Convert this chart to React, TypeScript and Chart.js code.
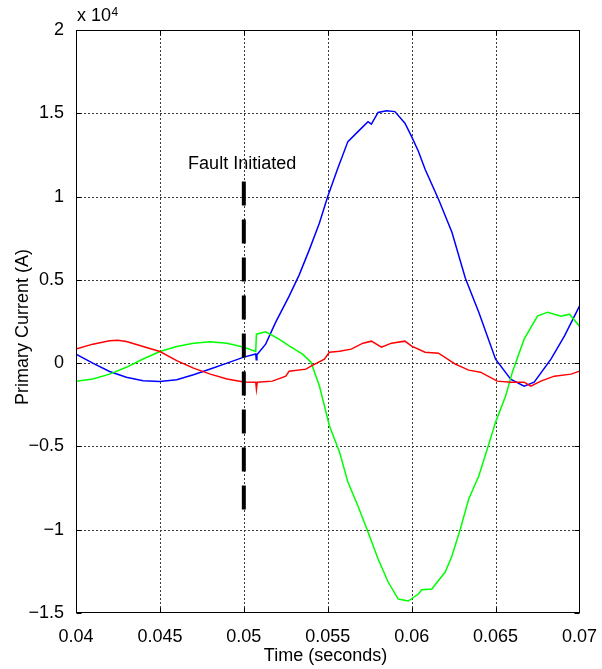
import React, { useEffect, useRef } from 'react';
import { Chart, registerables } from 'chart.js';

Chart.register(...registerables);

// Time axis values (seconds) and currents (x 10^4 A)
const blueTime = [0.04, 0.041, 0.042, 0.043, 0.044, 0.045, 0.046, 0.047, 0.048, 0.049, 0.05, 0.05071, 0.05074, 0.05078, 0.0513, 0.0519, 0.0527, 0.0533, 0.0539, 0.0545, 0.055, 0.0556, 0.0562, 0.0568, 0.0574, 0.0576, 0.058, 0.0585, 0.059, 0.0596, 0.06, 0.0604, 0.0608, 0.0616, 0.0624, 0.0632, 0.064, 0.065, 0.0659, 0.0667, 0.0673, 0.0683, 0.0691, 0.07];
const blueCurrent = [0.054, 0.0, -0.05, -0.085, -0.105, -0.11, -0.1, -0.07, -0.035, 0.0, 0.036, 0.055, 0.02, 0.05, 0.114, 0.246, 0.402, 0.53, 0.68, 0.84, 1.0, 1.17, 1.33, 1.39, 1.45, 1.435, 1.505, 1.515, 1.51, 1.44, 1.36, 1.272, 1.164, 0.984, 0.786, 0.51, 0.306, 0.024, -0.096, -0.138, -0.114, 0.024, 0.162, 0.342];

const greenTime = [0.04, 0.041, 0.042, 0.043, 0.044, 0.045, 0.046, 0.047, 0.048, 0.049, 0.05, 0.05071, 0.05075, 0.0513, 0.0521, 0.0527, 0.0535, 0.054, 0.0545, 0.0551, 0.0557, 0.0562, 0.0568, 0.0574, 0.058, 0.0586, 0.0592, 0.0598, 0.0604, 0.0606, 0.0612, 0.062, 0.0624, 0.0629, 0.0634, 0.064, 0.0646, 0.065, 0.0656, 0.066, 0.0667, 0.0675, 0.0681, 0.0689, 0.0694, 0.07];
const greenCurrent = [-0.108, -0.095, -0.066, -0.025, 0.025, 0.07, 0.1, 0.12, 0.128, 0.12, 0.095, 0.07, 0.174, 0.188, 0.144, 0.104, 0.054, 0.006, -0.136, -0.376, -0.534, -0.714, -0.858, -1.014, -1.176, -1.314, -1.416, -1.428, -1.386, -1.36, -1.356, -1.254, -1.158, -0.996, -0.816, -0.678, -0.486, -0.354, -0.198, -0.054, 0.144, 0.282, 0.306, 0.282, 0.294, 0.222];

const redTime = [0.04, 0.041, 0.042, 0.0425, 0.043, 0.044, 0.045, 0.046, 0.047, 0.048, 0.049, 0.05, 0.05071, 0.05075, 0.0508, 0.0517, 0.0525, 0.0527, 0.0537, 0.054, 0.0548, 0.0551, 0.0557, 0.0564, 0.0571, 0.0576, 0.0582, 0.0588, 0.0596, 0.06, 0.0608, 0.0616, 0.0626, 0.0634, 0.0641, 0.0651, 0.0659, 0.0667, 0.0671, 0.0677, 0.0685, 0.0695, 0.07];
const redCurrent = [0.084, 0.114, 0.135, 0.138, 0.13, 0.1, 0.07, 0.015, -0.03, -0.066, -0.095, -0.113, -0.115, -0.156, -0.114, -0.108, -0.078, -0.048, -0.036, -0.018, 0.024, 0.066, 0.072, 0.084, 0.12, 0.132, 0.096, 0.12, 0.132, 0.102, 0.066, 0.06, -0.006, -0.042, -0.054, -0.108, -0.114, -0.114, -0.138, -0.108, -0.078, -0.066, -0.048];

const faultTime = [0.05, 0.05];
const faultCurrent = [1.09, -0.895];
const faultLabel = 'Fault Initiated';
const faultLabelTime = 0.0499;
const faultLabelCurrent = 1.195;

const xTickValues = [0.04, 0.045, 0.05, 0.055, 0.06, 0.065, 0.07];
const xTickLabels = ['0.04', '0.045', '0.05', '0.055', '0.06', '0.065', '0.07'];
const yTickValues = [-1.5, -1, -0.5, 0, 0.5, 1, 1.5, 2];
const yTickLabels = ['\u22121.5', '\u22121', '\u22120.5', '0', '0.5', '1', '1.5', '2'];

const xTitle = 'Time (seconds)';
const yTitle = 'Primary Current (A)';
const exponentBase = 'x 10';
const exponentPower = '4';

const FONT = "'Liberation Sans', Arial, Helvetica, sans-serif";

const zip = (t: number[], v: number[]) => t.map((x, i) => ({ x, y: v[i] }));

const matlabPlugin = {
  id: 'matlabFrame',
  beforeDatasetsDraw(chart: any) {
    const { ctx, chartArea: a, scales } = chart;
    const xs = scales.x;
    const ys = scales.y;
    ctx.save();
    ctx.strokeStyle = '#3a3a3a';
    ctx.lineWidth = 1;
    ctx.setLineDash([2, 2]);
    for (const v of xTickValues.slice(1, -1)) {
      const px = Math.round(xs.getPixelForValue(v)) + 0.5;
      ctx.beginPath();
      ctx.moveTo(px, a.top);
      ctx.lineTo(px, a.bottom);
      ctx.stroke();
    }
    for (const v of yTickValues.slice(1, -1)) {
      const py = Math.round(ys.getPixelForValue(v)) + 0.5;
      ctx.beginPath();
      ctx.moveTo(a.left, py);
      ctx.lineTo(a.right, py);
      ctx.stroke();
    }
    ctx.restore();
  },
  afterDatasetsDraw(chart: any) {
    const { ctx, chartArea: a, scales } = chart;
    const xs = scales.x;
    const ys = scales.y;
    ctx.save();
    ctx.strokeStyle = '#000';
    ctx.lineWidth = 1;
    ctx.setLineDash([]);
    const L = Math.round(a.left) + 0.5;
    const R = Math.round(a.right) + 0.5;
    const T = Math.round(a.top) + 0.5;
    const B = Math.round(a.bottom) - 0.5;
    ctx.strokeRect(L, T, R - L, B - T);
    const tl = 5;
    ctx.beginPath();
    for (const v of xTickValues) {
      const px = Math.round(xs.getPixelForValue(v)) + 0.5;
      ctx.moveTo(px, B);
      ctx.lineTo(px, B - tl);
      ctx.moveTo(px, T);
      ctx.lineTo(px, T + tl);
    }
    for (const v of yTickValues) {
      const py = Math.round(ys.getPixelForValue(v)) + 0.5;
      ctx.moveTo(L, py);
      ctx.lineTo(L + tl, py);
      ctx.moveTo(R, py);
      ctx.lineTo(R - tl, py);
    }
    ctx.stroke();

    ctx.fillStyle = '#000';
    ctx.font = `18px ${FONT}`;
    ctx.textAlign = 'center';
    ctx.textBaseline = 'middle';
    ctx.fillText(faultLabel, xs.getPixelForValue(faultLabelTime), ys.getPixelForValue(faultLabelCurrent));

    // axis titles
    ctx.fillText(xTitle, 325.5, 656);
    ctx.save();
    ctx.translate(23, 327);
    ctx.rotate(-Math.PI / 2);
    ctx.fillText(yTitle, 0, 0);
    ctx.restore();

    // exponent label
    ctx.textAlign = 'left';
    ctx.textBaseline = 'alphabetic';
    ctx.font = `18px ${FONT}`;
    const bx = a.left + 1;
    ctx.fillText(exponentBase, bx, 21);
    const w = ctx.measureText(exponentBase).width;
    ctx.font = `12px ${FONT}`;
    ctx.fillText(exponentPower, bx + w + 0.5, 16);
    ctx.restore();
  },
};

export default function App() {
  const ref = useRef<HTMLCanvasElement | null>(null);

  useEffect(() => {
    if (!ref.current) return;
    const lineDs = (label: string, t: number[], v: number[], color: string, order: number) => ({
      label,
      data: zip(t, v),
      borderColor: color,
      backgroundColor: color,
      borderWidth: 1.5,
      pointRadius: 0,
      tension: 0,
      fill: false,
      order,
    });
    const chart = new Chart(ref.current, {
      type: 'line',
      data: {
        datasets: [
          {
            label: 'Fault',
            data: zip(faultTime, faultCurrent),
            borderColor: '#000',
            borderWidth: 4,
            borderDash: [24, 14],
            borderCapStyle: 'butt',
            pointRadius: 0,
            fill: false,
            order: 0,
          } as any,
          lineDs('Phase C', redTime, redCurrent, '#ff0000', 1),
          lineDs('Phase B', greenTime, greenCurrent, '#00ff00', 2),
          lineDs('Phase A', blueTime, blueCurrent, '#0000ff', 3),
        ],
      },
      options: {
        responsive: false,
        animation: false,
        maintainAspectRatio: false,
        devicePixelRatio: 1,
        layout: { padding: { top: 30, right: 20, left: 0, bottom: 0 } },
        plugins: {
          legend: { display: false },
          tooltip: { enabled: false },
        },
        scales: {
          x: {
            type: 'linear',
            min: 0.04,
            max: 0.07,
            grid: { display: false },
            border: { display: false },
            afterBuildTicks: (s: any) => {
              s.ticks = xTickValues.map((value) => ({ value }));
            },
            afterFit: (s: any) => {
              s.height = 56;
            },
            ticks: {
              autoSkip: false,
              maxRotation: 0,
              padding: 5,
              color: '#000',
              font: { family: FONT, size: 18 },
              callback: (_v: any, i: number) => xTickLabels[i],
            },
            title: { display: false },
          },
          y: {
            type: 'linear',
            min: -1.5,
            max: 2,
            grid: { display: false },
            border: { display: false },
            afterBuildTicks: (s: any) => {
              s.ticks = yTickValues.map((value) => ({ value }));
            },
            afterFit: (s: any) => {
              s.width = 76;
            },
            ticks: {
              autoSkip: false,
              padding: 4,
              color: '#000',
              font: { family: FONT, size: 18 },
              callback: (_v: any, i: number) => yTickLabels[i],
            },
            title: { display: false },
          },
        },
      } as any,
      plugins: [matlabPlugin],
    });
    return () => chart.destroy();
  }, []);

  return (
    <div style={{ position: 'absolute', left: 0, top: 0, width: 602, height: 669, background: '#fff' }}>
      <canvas ref={ref} width={602} height={669} style={{ display: 'block' }} />
    </div>
  );
}
